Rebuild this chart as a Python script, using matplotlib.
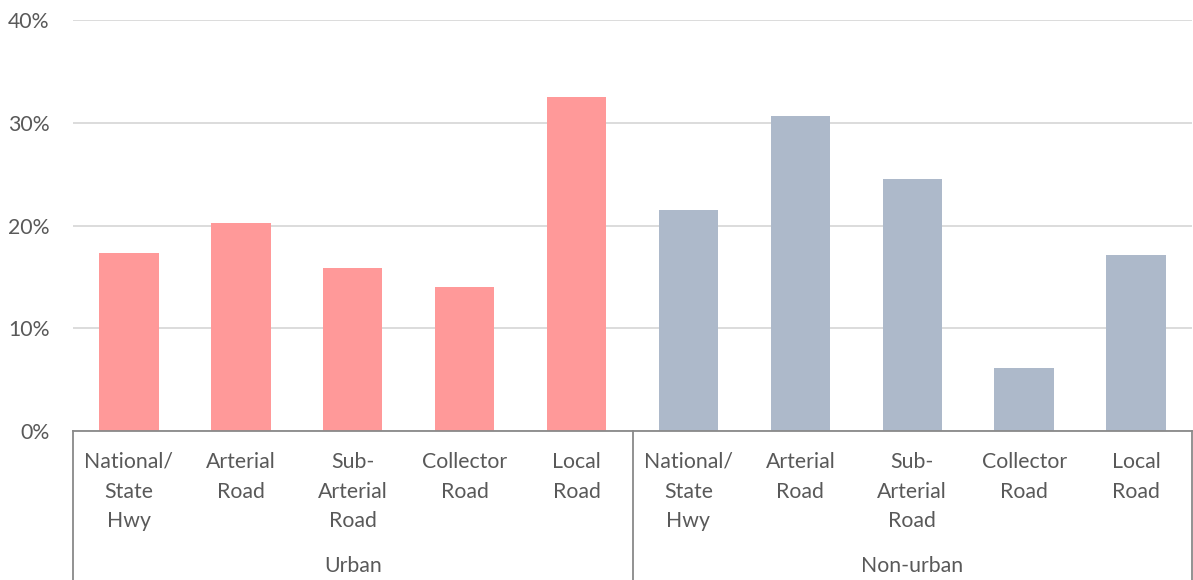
import matplotlib.pyplot as plt
import matplotlib.transforms as mtransforms
from matplotlib.lines import Line2D

groups = ["Urban", "Non-urban"]
road_types = ["National/\nState\nHwy", "Arterial\nRoad", "Sub-\nArterial\nRoad", "Collector\nRoad", "Local\nRoad"]
urban = [17.3, 20.2, 15.9, 14.0, 32.5]
non_urban = [21.5, 30.7, 24.5, 6.1, 17.1]
y_ticks = [0, 10, 20, 30, 40]
colors = ["#FF9999", "#ADB9CA"]

plt.rcParams['font.family'] = ['Lato', 'DejaVu Sans']
text_color = "#595959"
fs = 15.3

W, H = 1193, 580
fig = plt.figure(figsize=(W / 100, H / 100), dpi=100)
left, right, top, bottom = 73, 1192, 20, 431
ax = fig.add_axes([left / W, 1 - bottom / H, (right - left) / W, (bottom - top) / H])

n = len(road_types)
series = [urban, non_urban]
for g, vals in enumerate(series):
    xs = [g * n + i for i in range(n)]
    ax.bar(xs, vals, width=0.53, color=colors[g], zorder=3)

ax.set_xlim(-0.5, 2 * n - 0.5)
ax.set_ylim(0, 40)
ax.set_yticks(y_ticks)
ax.set_yticklabels([f"{t}%" for t in y_ticks])
ax.tick_params(axis='y', length=0, pad=17, labelsize=fs, labelcolor=text_color)
ax.tick_params(axis='x', length=0, labelbottom=False)
ax.yaxis.grid(True, color="#D9D9D9", linewidth=1.3, zorder=0)
for s in ["top", "right", "left"]:
    ax.spines[s].set_visible(False)
ax.spines["bottom"].set_color("#898989")
ax.spines["bottom"].set_linewidth(1.3)
ax.spines["bottom"].set_zorder(4)

# Category labels below the axis
trans = mtransforms.blended_transform_factory(ax.transData, fig.transFigure)
for g in range(len(groups)):
    for i, lab in enumerate(road_types):
        ax.text(g * n + i, 1 - 452 / H, lab, transform=trans, ha='center', va='top',
                fontsize=fs, color=text_color, linespacing=1.6)
    ax.text(g * n + (n - 1) / 2, 1 - 566 / H, groups[g], transform=trans, ha='center',
            va='center', fontsize=fs, color=text_color)

# Group separators
for xb in [-0.5, n - 0.5, 2 * n - 0.5]:
    ax.add_line(Line2D([xb, xb], [1 - bottom / H, 0], transform=trans, color="#898989",
                       linewidth=1.3, clip_on=False))

fig.savefig("out.png", dpi=100)
